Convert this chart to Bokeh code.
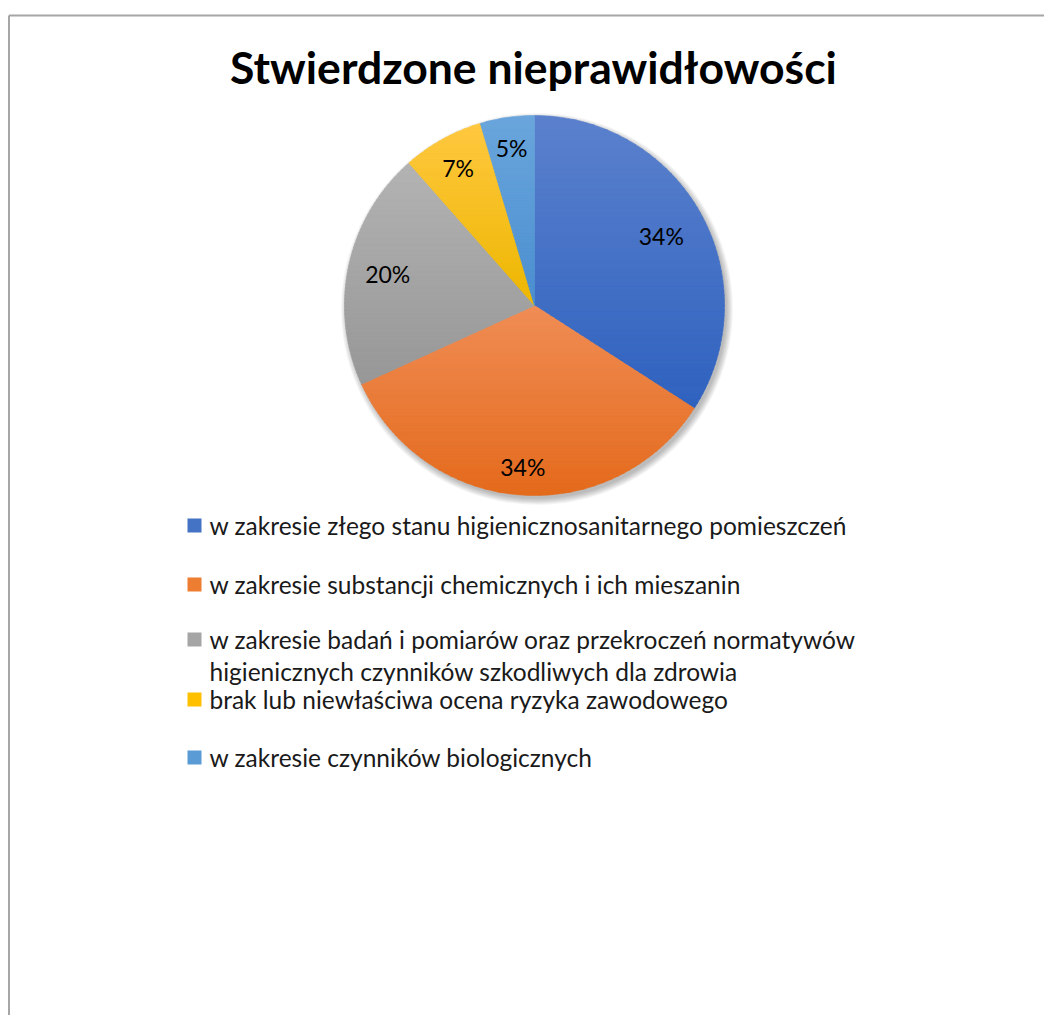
import numpy as np
from bokeh.plotting import figure
from bokeh.models import Range1d
from bokeh.core.properties import value
from bokeh.embed import file_html
from bokeh.resources import INLINE

# ---------------- data ----------------
TITLE = "Stwierdzone nieprawidłowości"
categories = [
    "w zakresie złego stanu higienicznosanitarnego pomieszczeń",
    "w zakresie substancji chemicznych i ich mieszanin",
    "w zakresie badań i pomiarów oraz przekroczeń normatywów\nhigienicznych  czynników szkodliwych dla zdrowia",
    "brak lub niewłaściwa ocena ryzyka zawodowego",
    "w zakresie czynników biologicznych",
]
shares = [34.1, 34.1, 20.3, 6.9, 4.6]

# ---------------- style ----------------
base_colors = ["#4472C4", "#ED7D31", "#A5A5A5", "#FFC000", "#5B9BD5"]
top_colors = ["#5B81CD", "#F08D55", "#B3B3B3", "#FFC840", "#6AA6DC"]
bot_colors = ["#2F62BF", "#E46A1C", "#979797", "#EDB700", "#4A8ED0"]
label_rfrac = [0.76, 0.85, 0.79, 0.83, 0.84]

W, H = 1044, 1015
PAGE_OFF = 0


def px(x):  # page x -> data x
    return x - PAGE_OFF


def py(y):  # page y -> data y
    return (H + PAGE_OFF) - y


FONT = "Lato"

p = figure(width=W, height=H, output_backend="svg", toolbar_location=None,
           x_range=Range1d(0, W), y_range=Range1d(0, H), min_border=0,
           background_fill_color="white", border_fill_color="white")
p.axis.visible = False
p.grid.visible = False
p.outline_line_color = None

# frame (left and top edges visible)
frame_col = "#A6A6A6"
p.line([px(8.5), px(8.5)], [py(15), py(H + 20)], line_color=frame_col, line_width=2)
p.line([px(8.5), px(W + 20)], [py(15), py(15)], line_color=frame_col, line_width=2)

# title
p.text(x=[px(533)], y=[py(66)], text=[TITLE], text_align="center",
       text_baseline="alphabetic", text_font=value(FONT),
       text_font_style="bold", text_font_size="44.5px", text_color="black")

# pie geometry
cx, cy, R = px(534), py(305), 190.0

# shadow
for k in range(8):
    p.scatter(x=[cx + 2.5], y=[cy - 3.5], size=2 * (R + 6 - k * 0.9),
              marker="circle", fill_color="black", fill_alpha=0.035,
              line_color=None)


def hexrgb(h):
    h = h.lstrip("#")
    return np.array([int(h[i:i + 2], 16) for i in (0, 2, 4)], dtype=float)


def rgbhex(c):
    c = np.clip(np.round(c), 0, 255).astype(int)
    return "#%02x%02x%02x" % tuple(c)


def clip(poly, ylo, yhi):
    def clip_half(pts, keep, inter):
        out = []
        n = len(pts)
        for i in range(n):
            a, b = pts[i], pts[(i + 1) % n]
            ka, kb = keep(a), keep(b)
            if ka:
                out.append(a)
            if ka != kb:
                out.append(inter(a, b))
        return out

    def inter_y(yv):
        def f(a, b):
            t = (yv - a[1]) / (b[1] - a[1])
            return (a[0] + t * (b[0] - a[0]), yv)
        return f

    pts = clip_half(poly, lambda q: q[1] >= ylo, inter_y(ylo))
    if not pts:
        return []
    pts = clip_half(pts, lambda q: q[1] <= yhi, inter_y(yhi))
    return pts


total = float(sum(shares))
fracs = [s / total for s in shares]
starts = np.concatenate([[0.0], np.cumsum(fracs)[:-1]])

xs_all, ys_all, cols_all = [], [], []
label_x, label_y, label_t = [], [], []
NB = 60
for i, (f0, fr) in enumerate(zip(starts, fracs)):
    a0 = 2 * np.pi * f0
    a1 = 2 * np.pi * (f0 + fr)
    ang = np.linspace(a0, a1, max(int(fr * 400), 8))
    ax = cx + R * np.sin(ang)
    ay = cy + R * np.cos(ang)
    poly = [(cx, cy)] + list(zip(ax, ay))
    ymin = min(q[1] for q in poly)
    ymax = max(q[1] for q in poly)
    ct, cb = hexrgb(top_colors[i]), hexrgb(bot_colors[i])
    edges = np.linspace(ymin, ymax, NB + 1)
    for b in range(NB):
        piece = clip(poly, edges[b] - 0.01, edges[b + 1] + 0.6)
        if len(piece) < 3:
            continue
        t = (ymax - 0.5 * (edges[b] + edges[b + 1])) / (ymax - ymin)
        col = rgbhex(ct + (cb - ct) * t)
        xs_all.append([q[0] for q in piece])
        ys_all.append([q[1] for q in piece])
        cols_all.append(col)
    mid = 2 * np.pi * (f0 + fr / 2)
    rr = R * label_rfrac[i]
    label_x.append(cx + rr * np.sin(mid))
    label_y.append(cy + rr * np.cos(mid))
    label_t.append("%d%%" % round(shares[i]))

p.patches(xs_all, ys_all, fill_color=cols_all, line_color=cols_all,
          line_width=0.6)

p.text(x=label_x, y=label_y, text=label_t, text_align="center",
       text_baseline="middle", text_font=value(FONT),
       text_font_size="23px", text_color="black")

# legend
row_y = [525, 584, 639, 699, 757]
line_gap = 32
sq_x = px(194)
txt_x = px(209)
for i, cat in enumerate(categories):
    p.scatter(x=[sq_x], y=[py(row_y[i])], marker="square", size=14,
              fill_color=base_colors[i], line_color=None)
    for j, line in enumerate(cat.split("\n")):
        p.text(x=[txt_x], y=[py(row_y[i] + j * line_gap)], text=[line],
               text_align="left", text_baseline="middle",
               text_font=value(FONT), text_font_size="24.5px",
               text_color="#1a1a1a")

open("out.html", "w").write(file_html(p, INLINE))
